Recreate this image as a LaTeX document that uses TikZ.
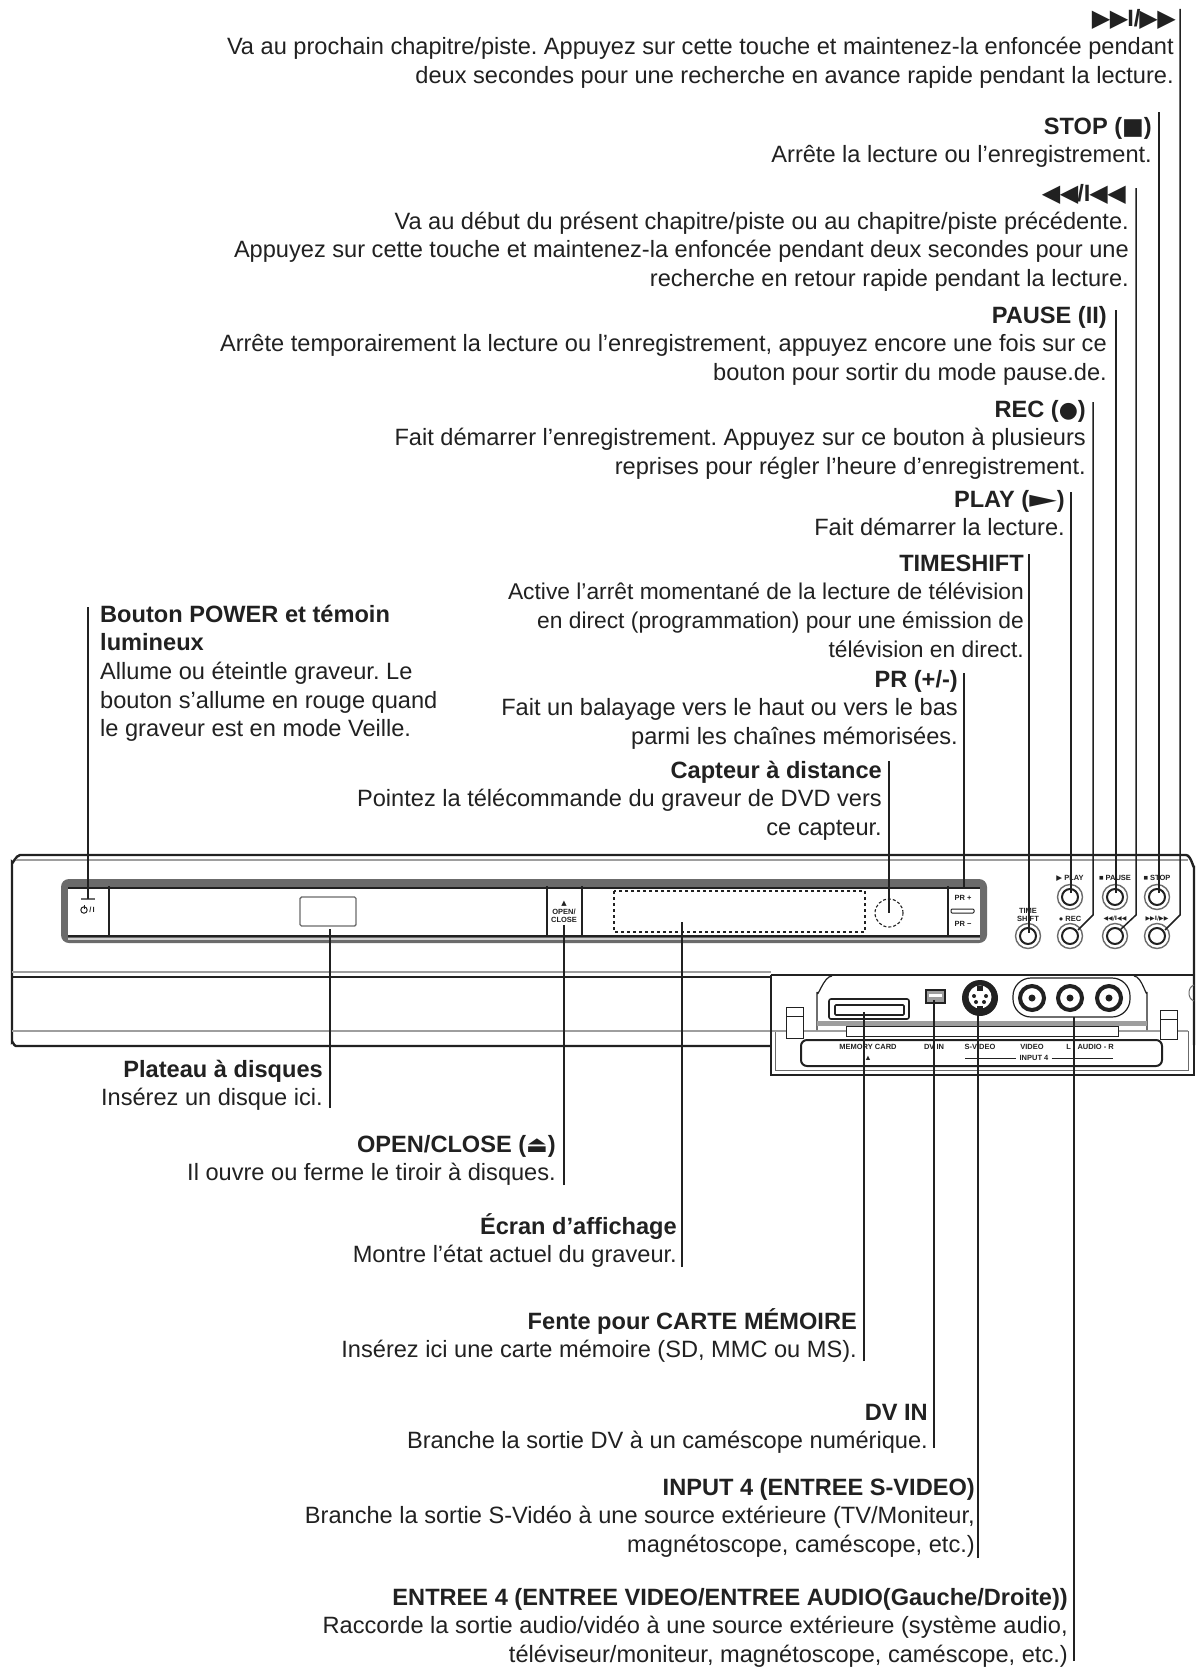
\documentclass[tikz,border=0pt]{standalone}
\usepackage{fontspec}
\setmainfont{Liberation Sans}
\newfontfamily\symf{DejaVu Sans}
\usetikzlibrary{calc,shapes.geometric}
\definecolor{ink}{gray}{0.13}
\definecolor{mid}{gray}{0.42}
\definecolor{pale}{gray}{0.62}
\newcommand{\ffw}{{\symf\fontsize{24}{24}\selectfont ▶\kern-.5pt▶\kern-1pt}\textbf{I/}{\symf\fontsize{24}{24}\selectfont \kern-1pt▶\kern-.5pt▶\kern-2pt}}
\newcommand{\rew}{{\symf\fontsize{24}{24}\selectfont ◀\kern-.5pt◀\kern-1pt}\textbf{/I}{\symf\fontsize{24}{24}\selectfont \kern-1pt◀\kern-.5pt◀\kern-2pt}}
\tikzset{
  x=1pt,y=-1pt,
  lbl/.style={inner sep=0pt,align=right,anchor=north east,text=ink,
    font=\fontsize{23.6}{28.6}\selectfont\frenchspacing},
  lbll/.style={lbl,align=left,anchor=north west},
  leader/.style={draw=ink,line width=1.5pt},
  body/.style={draw=ink,line width=2pt},
  thin gray/.style={draw=pale,line width=1.2pt},
  tiny/.style={inner sep=0pt,text=ink,align=center,font=\fontsize{7.5}{8}\selectfont\bfseries},
  btn/.style={draw=mid,line width=1.4pt,circle,minimum size=25pt,inner sep=0pt},
  btni/.style={draw=ink,line width=2pt,circle,minimum size=16pt,inner sep=0pt},
}
\begin{document}
\begin{tikzpicture}
\useasboundingbox[fill=white] (0,0) rectangle (1201,1670);
% ---- labels
\node[lbl] (t1) at (1174,6) {\strut\ffw\\Va au prochain chapitre/piste. Appuyez sur cette touche et maintenez-la enfoncée pendant\\deux secondes pour une recherche en avance rapide pendant la lecture.};
\node[lbl] (t2) at (1152,114) {\strut\textbf{STOP (}{\symf\fontsize{23}{23}\selectfont ■}\textbf{)}\\Arrête la lecture ou l’enregistrement.};
\node[lbl] (t3) at (1124,181) {\strut\rew};
\node[lbl] (t3b) at (1129,209) {\strut Va au début du présent chapitre/piste ou au chapitre/piste précédente.\\Appuyez sur cette touche et maintenez-la enfoncée pendant deux secondes pour une\\recherche en retour rapide pendant la lecture.};
\node[lbl] (t4) at (1107,303) {\strut\textbf{PAUSE (II)}\\Arrête temporairement la lecture ou l’enregistrement, appuyez encore une fois sur ce\\bouton pour sortir du mode pause.de.};
\node[lbl] (t5) at (1086,397) {\strut\textbf{REC (}{\symf\fontsize{22}{22}\selectfont ●}\textbf{)}\\Fait démarrer l’enregistrement. Appuyez sur ce bouton à plusieurs\\reprises pour régler l’heure d’enregistrement.};
\node[lbl] (t6) at (1065,487) {\strut\textbf{PLAY (}\scalebox{1.5}[1]{\symf\fontsize{24}{24}\selectfont ►}\textbf{)}\\Fait démarrer la lecture.};
\node[lbl] (t7) at (1024,551) {\strut\textbf{TIMESHIFT}\\{\fontsize{22.8}{28.6}\selectfont Active l’arrêt momentané de la lecture de télévision}\\{\fontsize{22.8}{28.6}\selectfont en direct (programmation) pour une émission de}\\{\fontsize{22.8}{28.6}\selectfont télévision en direct.}};
\node[lbl] (t8) at (958,667) {\strut\textbf{PR (+/-)}\\Fait un balayage vers le haut ou vers le bas\\parmi les chaînes mémorisées.};
\node[lbl] (t9) at (882,758) {\strut\textbf{Capteur à distance}\\Pointez la télécommande du graveur de DVD vers\\ce capteur.};
\node[lbll] (t10) at (100,602) {\strut\textbf{Bouton POWER et témoin}\\\textbf{lumineux}\\Allume ou éteintle graveur. Le\\bouton s’allume en rouge quand\\le graveur est en mode Veille.};
\node[lbl] (t11) at (323,1057) {\strut\textbf{Plateau à disques}\\Insérez un disque ici.};
\node[lbl] (t12) at (556,1132) {\strut\textbf{OPEN/CLOSE (}{\symf\fontsize{23}{23}\selectfont ⏏}\textbf{)}\\Il ouvre ou ferme le tiroir à disques.};
\node[lbl] (t13) at (677,1213) {\strut\textbf{Écran d’affichage}\\Montre l’état actuel du graveur.};
\node[lbl] (t14) at (857,1308) {\strut\textbf{Fente pour CARTE MÉMOIRE}\\Insérez ici une carte mémoire (SD, MMC ou MS).};
\node[lbl] (t15) at (928,1400) {\strut\textbf{DV IN}\\Branche la sortie DV à un caméscope numérique.};
\node[lbl] (t16) at (975,1475) {\strut\textbf{INPUT 4 (ENTREE S-VIDEO)}\\Branche la sortie S-Vidéo à une source extérieure (TV/Moniteur,\\magnétoscope, caméscope, etc.)};
\node[lbl] (t17) at (1068,1585) {\strut\textbf{ENTREE 4 (ENTREE VIDEO/ENTREE AUDIO(Gauche/Droite))}\\Raccorde la sortie audio/vidéo à une source extérieure (système audio,\\téléviseur/moniteur, magnétoscope, caméscope, etc.)};
% ---- recorder body
\draw[body,line width=2.4pt] (1194,1045) -- (1194,866) to[out=-90,in=0] (1186,855) -- (20,855) to[out=180,in=-90] (12,862) -- (12,1042) to[out=90,in=180] (16,1046) -- (771,1046);
\draw[thin gray] (16,860) -- (1188,860);
\draw[thin gray] (12,972) -- (771,972);
\draw[body] (12,977) -- (771,977);
\draw[thin gray] (12,1031) -- (786,1031);
\draw[draw=mid,line width=1pt] (1194,985) to[out=200,in=90] (1189,993) to[out=-90,in=160] (1194,1001);
% display band
\fill[mid,rounded corners=8pt] (61,879) rectangle (987,943);
\fill[white] (68,888) rectangle (980,936);
\fill[pale!50] (68,938.4) rectangle (980,939.6);
\draw[draw=ink,line width=1.6pt] (68,888) -- (980,888);
\draw[draw=ink,line width=2.2pt] (68,936) -- (980,936);
\foreach \sx in {109,547,582,948} \draw[draw=ink,line width=2.4pt] (\sx,886) -- (\sx,937);
\draw[draw=mid,line width=1.4pt,rounded corners=1.5pt] (300,897) rectangle (356,926);
\draw[draw=ink,dashed,line width=1.1pt] (614,891) rectangle (865,932);
\node[draw=ink,densely dashed,line width=1.1pt,circle,minimum size=28pt,inner sep=0pt] (sensor) at (889,913) {};
% power symbol: this glyph is in none of the fonts
\draw[draw=ink,line width=1pt] (84,910) circle (3.2pt);
\draw[draw=ink,line width=1pt] (84,905) -- (84,909);
\node[tiny] (pwrtxt) at (92,910) {/\,I};
\draw[draw=mid,line width=2pt] (81,899) -- (95,899);
\node[tiny] (eject) at (564,904) {{\symf\fontsize{7}{7}\selectfont ▲}};
\node[tiny] (opentxt) at (564,916) {OPEN/\\CLOSE};
\node[tiny] (prp) at (963,898) {PR +};
\node[tiny] (prm) at (963,924) {PR −};
\draw[draw=ink,line width=1pt,rounded corners=1pt] (951,909) rectangle (974,913);
% buttons
\foreach \nm/\bx/\by in {bplay/1070/897,bpause/1115/897,bstop/1157/897,btime/1028/936,brec/1070/936,brw/1115/936,bff/1157/936}{
  \node[btn] (\nm) at (\bx,\by) {};
  \node[btni] (\nm i) at (\bx,\by) {};
}
\node[tiny] (lplay) at (1070,878) {{\symf ▶} PLAY};
\node[tiny] (lpause) at (1115,878) {■ PAUSE};
\node[tiny] (lstop) at (1157,878) {■ STOP};
\node[tiny] (ltime) at (1028,915) {TIME\\SHIFT};
\node[tiny] (lrec) at (1070,919) {● REC};
\node[tiny] (lrw) at (1115,919) {\symf\fontsize{6}{6}\selectfont ◀◀/I◀◀};
\node[tiny] (lff) at (1157,919) {\symf\fontsize{6}{6}\selectfont ▶▶I/▶▶};
% ---- lower module
\draw[body] (771,975) -- (1194,975);
\draw[draw=ink,line width=1.8pt] (771,975) -- (771,1075) -- (1194,1075) -- (1194,1045);
\draw[draw=mid,line width=1pt] (775,1031) -- (775,1070) -- (1188,1070) -- (1188,1031);
\draw[thin gray] (775,1031) -- (1188,1031);
\draw[draw=ink,line width=1.2pt] (817,1030) -- (817,992) to[out=-90,in=180] (832,976);
\draw[draw=ink,line width=1.2pt] (1147,1030) -- (1147,992) to[out=-90,in=0] (1134,976);
\fill[pale] (817,1021) rectangle (1147,1026);
\draw[draw=ink,line width=1pt,fill=white] (846,1026) rectangle (1118,1036);
\draw[draw=ink,line width=1pt,fill=white] (786,1007) rectangle (803,1038);
\draw[draw=ink,line width=.8pt] (786,1016) -- (803,1016);
\draw[draw=ink,line width=1pt,fill=white] (1160,1010) rectangle (1177,1039);
\draw[draw=ink,line width=.8pt] (1160,1019) -- (1177,1019);
\draw[draw=ink,line width=2pt,rounded corners=6pt] (801,1040) rectangle (1162,1066);
\draw[draw=ink,line width=1.6pt,rounded corners=2pt] (829,999) rectangle (909,1019);
\draw[draw=ink,line width=1.6pt,rounded corners=1pt] (835,1005) rectangle (904,1015);
\draw[draw=ink,line width=1.2pt,fill=pale] (926,990) rectangle (945,1003);
\fill[white] (929,994) rectangle (942,997);
\node[circle,fill=ink,minimum size=36pt,inner sep=0pt] (svid) at (980,998) {};
\fill[white] (980,997) circle (11.5pt);
\fill[ink] (977,1006) rectangle (983,1012);
\foreach \dx/\dy in {-6/-1,6/-1,-4/5,4/5} \fill[ink] (980+\dx,997+\dy) circle (2pt);
\fill[ink] (977,986) rectangle (983,991);
\draw[draw=ink,line width=1.2pt,rounded corners=18pt] (1013,978) rectangle (1130,1017);
\foreach \nm/\jx in {jv/1032,jl/1070,jr/1109}{
  \node[draw=ink,circle,line width=4pt,minimum size=24pt,inner sep=0pt] (\nm) at (\jx,998) {};
  \fill[ink] (\jx,998) circle (3.5pt);
}
\node[tiny] (mc) at (868,1047) {MEMORY CARD};
\node[tiny] (mca) at (868,1058) {▲};
\node[tiny] (dv) at (934,1047) {DV IN};
\node[tiny] (sv) at (980,1047) {S-VIDEO};
\node[tiny] (vi) at (1032,1047) {VIDEO};
\node[tiny] (au) at (1090,1047) {L - AUDIO - R};
\node[tiny] (in4) at (1034,1058) {INPUT 4};
\draw[draw=ink,line width=.8pt] (965,1058) -- ([xshift=-3pt]in4.west) ([xshift=3pt]in4.east) -- (1113,1058);
% ---- leaders
\coordinate (p1) at (1180,9);   \coordinate (p1a) at (1180,915); \coordinate (p1b) at (1165,930);
\coordinate (p2) at (1159,112); \coordinate (p2a) at (1159,893);
\coordinate (p3) at (1136,188); \coordinate (p3a) at (1136,915); \coordinate (p3b) at (1120,930);
\coordinate (p4) at (1116,310); \coordinate (p4a) at (1116,893);
\coordinate (p5) at (1093,402); \coordinate (p5a) at (1093,915); \coordinate (p5b) at (1078,930);
\coordinate (p6) at (1071,492); \coordinate (p6a) at (1071,893);
\coordinate (p7) at (1029,554); \coordinate (p7a) at (1029,933);
\coordinate (p8) at (964,673);  \coordinate (p8a) at (964,888);
\coordinate (p9) at (889,761);  \coordinate (p9a) at (889,913);
\coordinate (p10) at (88,607);  \coordinate (p10a) at (88,899);
\coordinate (p11) at (330,1108); \coordinate (p11a) at (330,929);
\coordinate (p12) at (564,1185); \coordinate (p12a) at (564,925);
\coordinate (p13) at (682,1267); \coordinate (p13a) at (682,922);
\coordinate (p14) at (864,1361); \coordinate (p14a) at (864,1012);
\coordinate (p15) at (934,1448); \coordinate (p15a) at (934,1000);
\coordinate (p16) at (978,1558); \coordinate (p16a) at (978,1010);
\coordinate (p17) at (1074,1661); \coordinate (p17a) at (1074,1017);
\draw[leader] (p1) -- (p1a) -- (p1b);
\draw[leader] (p2) -- (p2a);
\draw[leader] (p3) -- (p3a) -- (p3b);
\draw[leader] (p4) -- (p4a);
\draw[leader] (p5) -- (p5a) -- (p5b);
\draw[leader] (p6) -- (p6a);
\draw[leader] (p7) -- (p7a);
\draw[leader] (p8) -- (p8a);
\draw[leader] (p9) -- (p9a);
\draw[leader] (p10) -- (p10a);
\draw[leader] (p11) -- (p11a);
\draw[leader] (p12) -- (p12a);
\draw[leader] (p13) -- (p13a);
\draw[leader] (p14) -- (p14a);
\draw[leader] (p15) -- (p15a);
\draw[leader] (p16) -- (p16a);
\draw[leader] (p17) -- (p17a);
\end{tikzpicture}
\end{document}
